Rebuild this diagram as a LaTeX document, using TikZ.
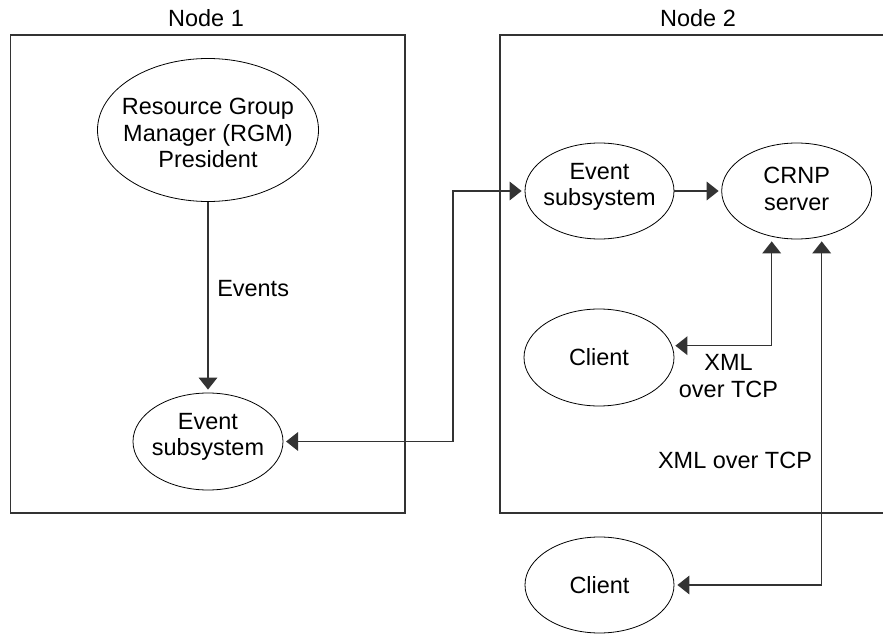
\documentclass[tikz,border=0pt]{standalone}
\usepackage{fontspec}
\setmainfont{Liberation Sans}
\usetikzlibrary{shapes.geometric,arrows.meta}
\begin{document}
\begin{tikzpicture}[x=0.75pt,y=-0.75pt,
  txt/.style={font=\fontsize{17.6}{20}\selectfont, align=center, inner sep=0pt},
  oval/.style={draw, ellipse, line width=0.6pt, inner sep=0pt},
  frame/.style={draw=black!80, line width=1pt},
  conn/.style={draw=black!80, line width=1pt, -{Triangle[length=9pt,width=14pt]}},
  biconn/.style={draw=black!80, line width=1pt, {Triangle[length=9pt,width=14pt]}-{Triangle[length=9pt,width=14pt]}}]
\useasboundingbox (0,0) rectangle (883,635);
% frames
\draw[frame] (10.5,35) rectangle (405,513);
\draw[frame] (885,35) -- (500,35) -- (500,513) -- (885,513);
\node[txt] (n1lbl) at (206,18.5) {Node 1};
\node[txt] (n2lbl) at (698,18.5) {Node 2};
% node 1
\node[oval, minimum width=165.75pt, minimum height=107.25pt] (rgm) at (208,130) {};
\node[txt] (rgmtxt) at (208,133) {Resource Group\\Manager (RGM)\\President};
\node[oval, minimum width=112.5pt, minimum height=72.75pt] (es1) at (208,441.5) {};
\node[txt] (es1txt) at (208,437) {Event\\subsystem};
\node[txt, anchor=west] (evlbl) at (217,289) {Events};
% node 2
\node[oval, minimum width=111.75pt, minimum height=72pt] (es2) at (599.5,191) {};
\node[txt] (es2txt) at (599.5,187) {Event\\subsystem};
\node[oval, minimum width=112.5pt, minimum height=72pt] (crnp) at (796.7,191) {};
\node[txt] (crnptxt) at (796.7,189) {CRNP\\server};
\node[oval, minimum width=112.5pt, minimum height=72.75pt] (cl1) at (599,357.5) {};
\node[txt] (cl1txt) at (599,357) {Client};
\node[oval, minimum width=111.75pt, minimum height=72pt] (cl2) at (599.5,585) {};
\node[txt] (cl2txt) at (599.5,585) {Client};
\node[txt] (xml1) at (728.5,376) {XML\\over TCP};
\node[txt] (xml2) at (735,460) {XML over TCP};
% corners
\coordinate (j1) at (453,441.5);
\coordinate (k1) at (771.7,345.7);
\coordinate (k2) at (821.7,585);
% connectors
\draw[conn, shorten >=2.25pt] (rgm.south) -- (es1.north);
\draw[biconn, shorten <=2pt, shorten >=2.25pt] (es1.east) -- (j1) |- (es2.west);
\draw[conn, shorten >=2pt] (es2.east) -- (crnp.west);
\draw[biconn, shorten <=0.75pt, shorten >=1.5pt] (cl1.east |- k1) -- (k1) -- (k1 |- crnp.south);
\draw[biconn, shorten <=2.25pt, shorten >=1.5pt] (cl2.east) -- (k2) -- (k2 |- crnp.south);
\end{tikzpicture}
\end{document}
